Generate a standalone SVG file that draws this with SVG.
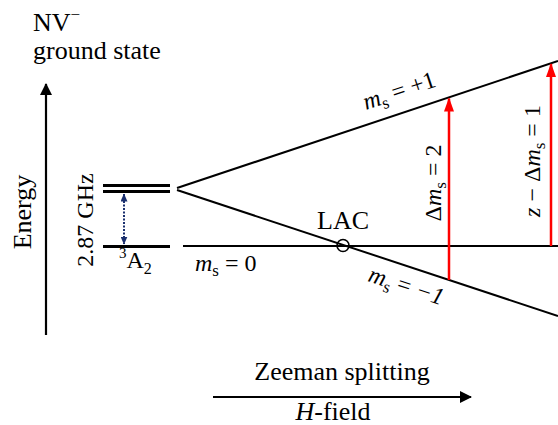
<svg xmlns="http://www.w3.org/2000/svg" width="558" height="425" viewBox="0 0 558 425">
<defs>
<style>
text{font-family:"Liberation Serif","Times New Roman",serif;font-size:24px;fill:#000}
.big{font-size:26px}
.it{font-style:italic}
.lvl{stroke:#000;stroke-width:3;fill:none}
.ln{stroke:#000;stroke-width:2;fill:none}
.red{stroke:#ff0000;stroke-width:2.5;fill:none}
</style>
<marker id="ah" viewBox="0 0 12 12" refX="11" refY="6" markerWidth="12" markerHeight="12" markerUnits="userSpaceOnUse" orient="auto"><path d="M0,0 L12,6 L0,12 z" fill="#000"/></marker>
<marker id="ahr" viewBox="0 0 14 10" refX="13" refY="5" markerWidth="14" markerHeight="10" markerUnits="userSpaceOnUse" orient="auto"><path d="M0,0 L14,5 L0,10 z" fill="#ff0000"/></marker>
<marker id="ahb" viewBox="0 0 8 7" refX="7.5" refY="3.5" markerWidth="8" markerHeight="7" markerUnits="userSpaceOnUse" orient="auto-start-reverse"><path d="M0,0 L8,3.5 L0,7 z" fill="#1a2f6e"/></marker>
</defs>
<g id="title">
<text class="big" x="33" y="31">NV<tspan font-size="17" dy="-11">−</tspan></text>
<text class="big" x="33" y="59">ground state</text>
</g>
<g id="energy-axis">
<line x1="46" y1="335" x2="46" y2="84" stroke="#000" stroke-width="2.2" marker-end="url(#ah)"/>
<text class="big" transform="translate(31,212) rotate(-90)" text-anchor="middle">Energy</text>
</g>
<g id="zero-field">
<line class="lvl" x1="103" y1="185.5" x2="170" y2="185.5"/>
<line class="lvl" x1="103" y1="191.5" x2="170" y2="191.5"/>
<line class="lvl" x1="103" y1="246.5" x2="170" y2="246.5"/>
<line x1="124" y1="194" x2="124" y2="244" stroke="#1a2f6e" stroke-width="2" stroke-dasharray="2,1.5" marker-start="url(#ahb)" marker-end="url(#ahb)"/>
<text transform="translate(93,220) rotate(-90)" text-anchor="middle" font-size="25">2.87 GHz</text>
<text x="119" y="268" font-size="25"><tspan font-size="15" dy="-10">3</tspan><tspan dy="10">A</tspan><tspan font-size="16" dy="6">2</tspan></text>
</g>
<g id="connectors">
<line class="ln" x1="177" y1="188" x2="558" y2="61"/>
<line class="ln" x1="177" y1="190" x2="558" y2="316"/>
<line class="ln" x1="183" y1="246" x2="558" y2="246" stroke-width="2.4"/>
<line class="red" x1="449" y1="280" x2="449" y2="98.5" marker-end="url(#ahr)"/>
<line class="red" x1="551" y1="246" x2="551" y2="64" marker-end="url(#ahr)"/>
</g>
<g id="lac">
<circle cx="343" cy="245.5" r="6" fill="none" stroke="#000" stroke-width="1.6"/>
<text class="big" x="343" y="229" text-anchor="middle">LAC</text>
</g>
<g id="labels">
<text x="195" y="271"><tspan class="it">m</tspan><tspan font-size="17" dy="5">s</tspan><tspan dy="-5"> = 0</tspan></text>
<text transform="translate(366,110) rotate(-18.4)"><tspan class="it">m</tspan><tspan font-size="17" dy="5">s</tspan><tspan dy="-5"> = +1</tspan></text>
<text transform="translate(367,281) rotate(18.1)"><tspan class="it">m</tspan><tspan font-size="17" dy="5">s</tspan><tspan dy="-5"> = </tspan><tspan class="it">−1</tspan></text>
<text transform="translate(441,183) rotate(-90)" text-anchor="middle">Δ<tspan class="it">m</tspan><tspan font-size="17" dy="5">s</tspan><tspan dy="-5"> = 2</tspan></text>
<text transform="translate(540,161) rotate(-90)" text-anchor="middle"><tspan class="it">z</tspan> − Δ<tspan class="it">m</tspan><tspan font-size="17" dy="5">s</tspan><tspan dy="-5"> = 1</tspan></text>
</g>
<g id="field-axis">
<line x1="213" y1="397" x2="471" y2="397" stroke="#000" stroke-width="2.2" marker-end="url(#ah)"/>
<text class="big" x="342" y="380" text-anchor="middle">Zeeman splitting</text>
<text class="big" x="333" y="420" text-anchor="middle"><tspan class="it">H</tspan>-field</text>
</g>
</svg>
